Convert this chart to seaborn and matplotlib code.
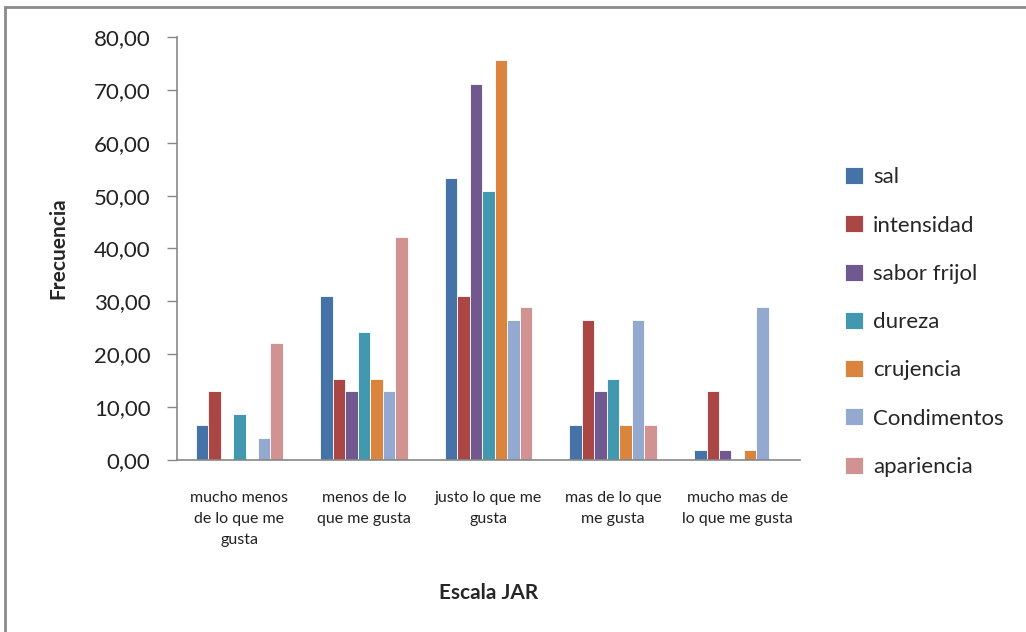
import matplotlib
matplotlib.use("Agg")
import matplotlib.pyplot as plt
from matplotlib.patches import Rectangle
import seaborn as sns
import pandas as pd

# Categories on the JAR scale
categorias = [
    "mucho menos\nde lo que me\ngusta",
    "menos de lo\nque me gusta",
    "justo lo que me\ngusta",
    "mas de lo que\nme gusta",
    "mucho mas de\nlo que me gusta",
]

# Frequency (%) per attribute and JAR category
sal = [6.56, 31.06, 53.37, 6.56, 1.90]
intensidad = [13.11, 15.25, 31.06, 26.40, 13.11]
sabor_frijol = [0.00, 13.11, 71.10, 13.11, 1.90]
dureza = [8.75, 24.25, 50.90, 15.25, 0.00]
crujencia = [0.00, 15.25, 75.70, 6.56, 1.90]
condimentos = [4.16, 13.11, 26.40, 26.40, 28.90]
apariencia = [22.05, 42.20, 28.90, 6.56, 0.00]

series = {
    "sal": sal,
    "intensidad": intensidad,
    "sabor frijol": sabor_frijol,
    "dureza": dureza,
    "crujencia": crujencia,
    "Condimentos": condimentos,
    "apariencia": apariencia,
}
colores = ["#4572A7", "#AA4643", "#71588F", "#4198AF", "#DB843D", "#93A9CF", "#D19392"]

rows = []
for atributo, valores in series.items():
    for cat, v in zip(categorias, valores):
        rows.append({"categoria": cat, "atributo": atributo, "valor": v})
df = pd.DataFrame(rows)

sns.set_theme(style="white")
plt.rcParams["font.family"] = ["Lato", "DejaVu Sans"]

fig = plt.figure(figsize=(10.26, 6.32), dpi=100)
ax = fig.add_axes([177 / 1026, 1 - 460 / 632, 623 / 1026, 423 / 632])

sns.barplot(
    data=df, x="categoria", y="valor", hue="atributo",
    order=categorias, hue_order=list(series.keys()),
    palette=colores, saturation=1, width=0.7, gap=0, ax=ax,
    edgecolor="white", linewidth=0.6, errorbar=None,
)

ax.set_ylim(0, 80)
ax.set_xlim(-0.5, 4.5)
ax.set_yticks(range(0, 81, 10))
ax.set_yticklabels([f"{v},00" for v in range(0, 81, 10)], fontsize=16, color="#222222")
ax.tick_params(axis="y", direction="out", length=7, width=1, color="#888888", pad=12, left=True)
ax.tick_params(axis="x", length=0, pad=22, labelsize=11.5, labelcolor="#222222")
for lbl in ax.get_xticklabels():
    lbl.set_linespacing(1.65)

for side in ["top", "right"]:
    ax.spines[side].set_visible(False)
for side in ["left", "bottom"]:
    ax.spines[side].set_color("#888888")
    ax.spines[side].set_linewidth(1.2)

ax.set_ylabel("Frecuencia", fontsize=15, fontweight="bold", labelpad=18)
ax.set_xlabel("Escala JAR", fontsize=15, fontweight="bold", labelpad=26)

leg = ax.legend(
    loc="center left", bbox_to_anchor=(834 / 1026, 1 - 322 / 632), bbox_transform=fig.transFigure,
    frameon=False, fontsize=16, handlelength=0.8, handleheight=0.8,
    handletextpad=0.45, labelspacing=1.26, borderpad=0,
)

# Chart area border
fig.patches.append(Rectangle((5 / 1026, -0.05), 1.1, 1 - 7 / 632 + 0.05,
                             transform=fig.transFigure, fill=False,
                             edgecolor="#8a8a8a", linewidth=2))

fig.savefig("out.png", dpi=100)
